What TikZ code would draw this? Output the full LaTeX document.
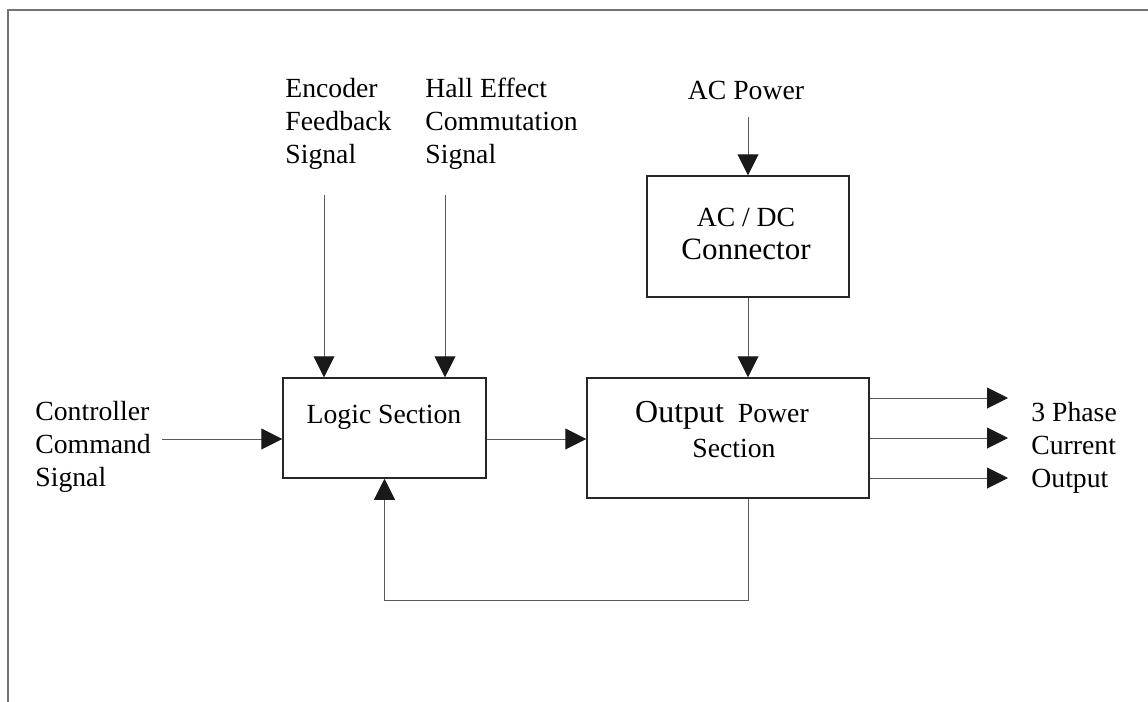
\documentclass[tikz,border=0pt]{standalone}
\usepackage{fontspec}
\setmainfont{Liberation Serif}
\usetikzlibrary{arrows.meta}

\begin{document}
\begin{tikzpicture}[x=0.5pt, y=-0.5pt,
    blockbox/.style={draw=black!85, line width=0.75pt, inner sep=0pt},
    lbl/.style={inner sep=0pt, font=\fontsize{13.85}{16.5}\selectfont},
    sig/.style={draw=black!65, line width=0.5pt, -{Triangle[length=10.5pt,width=10.5pt,color=black!90]}}]
    \useasboundingbox (0,0) rectangle (1148,702);

    % Frame
    \draw[black!55, line width=1pt] (8,702) -- (8,10) -- (1148,10);

    % Blocks
    \node[blockbox, minimum width=101.5pt, minimum height=50pt] (logic) at (384.5,428) {};
    \node[blockbox, minimum width=141pt, minimum height=60pt] (power) at (728,438) {};
    \node[blockbox, minimum width=101pt, minimum height=60.5pt] (acdc) at (748,236.5) {};

    % Block texts
    \node[lbl, anchor=base] (logictxt) at (384,423) {Logic Section};
    \node[lbl, anchor=north, align=center, font=\fontsize{13.85}{17.5}\selectfont] (powertxt) at (722,401)
        {{\fontsize{16}{17.5}\selectfont Output}\ \ Power\\\hspace*{12pt}Section};
    \node[lbl, anchor=north, align=center] (acdctxt) at (746,208)
        {AC / DC\\{\fontsize{15.5}{16.5}\selectfont Connector}};

    % Signal labels
    \node[lbl, anchor=base] (acpower) at (746,99) {AC Power};
    \node[lbl, anchor=north west, align=left] (encoder) at (285,78) {Encoder\\Feedback\\Signal};
    \node[lbl, anchor=north west, align=left] (hall) at (425,78) {Hall Effect\\Commutation\\Signal};
    \node[lbl, anchor=north west, align=left] (cmd) at (35,401) {Controller\\Command\\Signal};
    \node[lbl, anchor=north west, align=left] (phase) at (1031,402) {3 Phase\\Current\\Output};

    % Free ends
    \coordinate (acin) at (748,117);
    \coordinate (encin) at (324,195);
    \coordinate (hallin) at (445,195);
    \coordinate (cmdin) at (162,439);
    \coordinate (fbturn) at (748,600);

    % Connectors
    \draw[sig] (acin) -- (acdc.north);
    \draw[sig] (acdc.south) -- (acdc.south |- power.north);
    \draw[sig] (encin) -- (encin |- logic.north);
    \draw[sig] (hallin) -- (hallin |- logic.north);
    \draw[sig] (cmdin) -- (cmdin -| logic.west);
    \draw[sig] (logic.east |- cmdin) -- (power.west |- cmdin);
    \foreach \y/\n in {398/a,438/b,478/c} {
        \coordinate (out\n) at (1008,\y);
        \draw[sig] (power.east |- out\n) -- (out\n);
    }

    % Feedback loop
    \draw[sig] (power.south -| fbturn) -- (fbturn) -| (logic.south);

\end{tikzpicture}
\end{document}
